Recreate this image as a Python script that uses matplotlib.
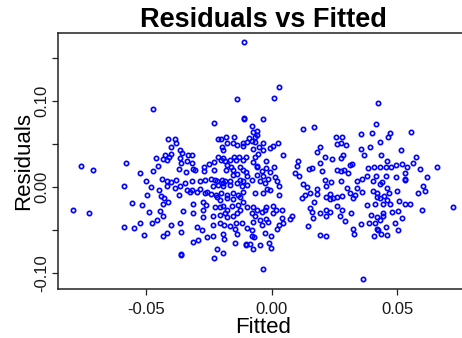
import numpy as np
import matplotlib
matplotlib.use("Agg")
import matplotlib.pyplot as plt

plt.rcParams['font.family'] = ['Liberation Sans', 'DejaVu Sans']

# (fitted, residual) pairs, grouped by region of the fitted axis
left_pts = [
    (-0.0472, 0.091), (-0.0759, 0.025), (-0.0708, 0.020), (-0.0579, 0.028),
    (-0.0411, 0.056), (-0.0383, 0.056), (-0.0380, 0.052), (-0.0398, 0.047),
    (-0.0365, 0.043), (-0.0355, 0.040), (-0.0333, 0.038), (-0.0399, 0.039),
    (-0.0425, 0.037), (-0.0461, 0.034), (-0.0431, 0.033), (-0.0415, 0.032),
    (-0.0407, 0.035), (-0.0359, 0.028), (-0.0337, 0.030), (-0.0452, 0.025),
    (-0.0473, 0.019), (-0.0525, 0.017), (-0.0370, 0.021), (-0.0341, 0.018),
    (-0.0500, 0.007), (-0.0437, 0.010), (-0.0417, 0.007), (-0.0398, 0.006),
    (-0.0379, 0.008), (-0.0346, 0.005), (-0.0586, 0.002), (-0.0481, 0.000),
    (-0.0448, -0.003), (-0.0416, 0.002), (-0.0386, -0.001), (-0.0338, -0.003),
    (-0.0325, -0.006), (-0.0496, -0.009), (-0.0553, -0.018), (-0.0516, -0.021),
    (-0.0439, -0.010), (-0.0428, -0.013), (-0.0432, -0.019), (-0.0413, -0.017),
    (-0.0367, -0.009), (-0.0791, -0.026), (-0.0726, -0.030), (-0.0488, -0.029),
    (-0.0445, -0.028), (-0.0431, -0.033), (-0.0353, -0.028), (-0.0586, -0.046),
    (-0.0547, -0.047), (-0.0525, -0.042), (-0.0476, -0.042), (-0.0456, -0.038),
    (-0.0401, -0.044), (-0.0365, -0.041), (-0.0361, -0.052), (-0.0509, -0.056),
    (-0.0433, -0.057), (-0.0415, -0.053), (-0.0362, -0.079), (-0.0360, -0.078),
    (-0.0365, 0.034), (-0.0365, 0.001), (-0.0318, 0.028), (-0.0305, 0.020),
    (-0.0318, -0.003), (-0.0312, -0.030), (-0.0318, 0.038), (-0.0312, 0.021),
    (-0.0316, 0.007), (-0.0314, -0.019), (-0.0312, -0.064),
]

core_pts = [
    (-0.0109, 0.169), (-0.0139, 0.103), (-0.0228, 0.075), (-0.0110, 0.079),
    (-0.0212, 0.056), (-0.0200, 0.056), (-0.0183, 0.058), (-0.0149, 0.058),
    (-0.0199, 0.047), (-0.0153, 0.052), (-0.0139, 0.049), (-0.0113, 0.048),
    (-0.0099, 0.053), (-0.0091, 0.057), (-0.0212, 0.035), (-0.0192, 0.034),
    (-0.0187, 0.031), (-0.0151, 0.035), (-0.0142, 0.032), (-0.0131, 0.035),
    (-0.0113, 0.032), (-0.0102, 0.035), (-0.0249, 0.027), (-0.0229, 0.029),
    (-0.0270, 0.023), (-0.0269, 0.019), (-0.0229, 0.020), (-0.0182, 0.020),
    (-0.0161, 0.023), (-0.0153, 0.020), (-0.0153, 0.014), (-0.0126, 0.024),
    (-0.0115, 0.020), (-0.0102, 0.018), (-0.0097, 0.013), (-0.0126, 0.009),
    (-0.0113, 0.007), (-0.0285, 0.007), (-0.0242, 0.010), (-0.0227, 0.009),
    (-0.0216, 0.007), (-0.0198, 0.009), (-0.0187, 0.007), (-0.0166, 0.007),
    (-0.0139, 0.015), (-0.0232, 0.001), (-0.0212, 0.003), (-0.0192, 0.005),
    (-0.0166, 0.003), (-0.0139, 0.005), (-0.0119, 0.001), (-0.0099, 0.003),
    (-0.0265, 0.008), (-0.0298, -0.006), (-0.0265, -0.007), (-0.0242, -0.008),
    (-0.0221, -0.009), (-0.0203, -0.007), (-0.0179, -0.009), (-0.0153, -0.007),
    (-0.0133, -0.009), (-0.0113, -0.005), (-0.0272, -0.017), (-0.0261, -0.021),
    (-0.0225, -0.023), (-0.0192, -0.022), (-0.0159, -0.022), (-0.0133, -0.021),
    (-0.0113, -0.017), (-0.0099, -0.023), (-0.0272, -0.035), (-0.0235, -0.033),
    (-0.0206, -0.032), (-0.0186, -0.030), (-0.0179, -0.035), (-0.0153, -0.033),
    (-0.0235, -0.044), (-0.0206, -0.042), (-0.0188, -0.044), (-0.0142, -0.042),
    (-0.0119, -0.041), (-0.0146, -0.048), (-0.0099, -0.047), (-0.0293, -0.061),
    (-0.0258, -0.058), (-0.0235, -0.057), (-0.0195, -0.054), (-0.0188, -0.060),
    (-0.0146, -0.065), (-0.0139, -0.054), (-0.0102, -0.066), (-0.0216, -0.072),
    (-0.0195, -0.076), (-0.0229, -0.082),
    (-0.0200, 0.032), (-0.0179, 0.026), (-0.0166, 0.032), (-0.0192, 0.001),
    (-0.0285, -0.002), (-0.0258, -0.005), (-0.0219, -0.011), (-0.0206, -0.015),
    (-0.0179, -0.012), (-0.0153, -0.014), (-0.0126, -0.011), (-0.0206, -0.023),
    (-0.0179, -0.026), (-0.0139, -0.030), (-0.0126, -0.026), (-0.0272, -0.026),
    (-0.0298, -0.046), (-0.0278, -0.050), (-0.0166, -0.045), (-0.0179, 0.051),
    (-0.0192, 0.043), (-0.0113, 0.051),
]

mid_pts = [
    (0.0028, 0.117), (0.0009, 0.104), (-0.0036, 0.079), (-0.0109, 0.080),
    (-0.0080, 0.071), (-0.0060, 0.066), (-0.0076, 0.064), (-0.0060, 0.061),
    (-0.0066, 0.058), (-0.0066, 0.053), (-0.0080, 0.054), (-0.0033, 0.051),
    (-0.0049, 0.047), (-0.0073, 0.045), (-0.0007, 0.046), (0.0006, 0.048),
    (0.0025, 0.052), (0.0046, 0.037), (-0.0023, 0.031), (-0.0066, 0.035),
    (-0.0053, 0.039), (-0.0073, 0.029), (-0.0057, 0.025), (-0.0060, 0.023),
    (-0.0040, 0.019), (-0.0023, 0.022), (-0.0007, 0.018), (0.0009, 0.023),
    (-0.0033, 0.013), (-0.0014, 0.010), (0.0012, 0.012), (-0.0060, 0.014),
    (-0.0080, 0.009), (-0.0047, 0.007), (-0.0027, 0.005), (0.0020, 0.007),
    (-0.0066, -0.007), (-0.0033, -0.007), (-0.0020, -0.002), (-0.0007, -0.003),
    (0.0030, 0.002), (0.0030, -0.009), (-0.0073, -0.023), (-0.0060, -0.026),
    (-0.0080, -0.030), (-0.0066, -0.033), (-0.0040, -0.029), (-0.0027, -0.026),
    (-0.0023, -0.023), (0.0006, -0.022), (0.0017, -0.026), (0.0040, -0.026),
    (0.0004, -0.030), (-0.0073, -0.040), (-0.0047, -0.038), (-0.0023, -0.037),
    (-0.0040, -0.044), (-0.0014, -0.040), (0.0040, -0.036), (0.0046, -0.042),
    (0.0030, -0.044), (0.0022, -0.049), (-0.0080, -0.050), (-0.0080, -0.057),
    (-0.0070, -0.058), (-0.0076, -0.072), (-0.0027, -0.053), (-0.0004, -0.057),
    (-0.0047, -0.067), (-0.0010, -0.065), (-0.0004, -0.071), (-0.0033, -0.095),
    (-0.0103, -0.067), (-0.0086, -0.066), (-0.0033, 0.043), (0.0073, -0.037),
    (0.0080, -0.033),
]

right_pts = [
    (0.0124, 0.068), (0.0106, 0.031), (0.0099, 0.025), (0.0094, 0.017),
    (0.0107, 0.013), (0.0123, 0.004), (0.0149, 0.021), (0.0142, 0.000),
    (0.0132, -0.009), (0.0119, -0.013), (0.0145, -0.045),
    (0.0421, 0.098), (0.0416, 0.074), (0.0168, 0.070), (0.0254, 0.059),
    (0.0279, 0.059), (0.0354, 0.062), (0.0399, 0.063), (0.0470, 0.063),
    (0.0462, 0.059), (0.0555, 0.064), (0.0274, 0.051), (0.0294, 0.049),
    (0.0193, 0.047), (0.0181, 0.041), (0.0429, 0.053), (0.0391, 0.047),
    (0.0354, 0.045), (0.0368, 0.038), (0.0513, 0.043), (0.0283, 0.038),
    (0.0277, 0.034), (0.0240, 0.033), (0.0212, 0.035), (0.0192, 0.028),
    (0.0159, 0.022), (0.0312, 0.026), (0.0320, 0.027), (0.0200, 0.019),
    (0.0258, 0.020), (0.0274, 0.019), (0.0287, 0.020), (0.0302, 0.017),
    (0.0384, 0.022), (0.0405, 0.024), (0.0429, 0.024), (0.0457, 0.030),
    (0.0454, 0.024), (0.0475, 0.024), (0.0495, 0.026), (0.0519, 0.027),
    (0.0539, 0.023), (0.0531, 0.017), (0.0575, 0.035), (0.0563, 0.028),
    (0.0588, 0.021), (0.0658, 0.024), (0.0378, 0.013), (0.0415, 0.013),
    (0.0454, 0.013), (0.0493, 0.012), (0.0529, 0.010), (0.0616, 0.012),
    (0.0211, 0.008), (0.0235, 0.006), (0.0274, 0.007), (0.0338, 0.007),
    (0.0358, 0.010), (0.0404, 0.007), (0.0437, 0.006), (0.0298, -0.001),
    (0.0338, -0.001), (0.0358, -0.005), (0.0401, -0.004), (0.0417, -0.007),
    (0.0430, 0.004), (0.0457, -0.001), (0.0465, -0.007), (0.0497, -0.004),
    (0.0531, 0.008), (0.0603, 0.001), (0.0611, -0.004), (0.0582, -0.007),
    (0.0179, -0.002), (0.0181, -0.008), (0.0152, -0.007), (0.0216, -0.011),
    (0.0232, -0.014), (0.0245, -0.012), (0.0258, -0.011), (0.0278, -0.010),
    (0.0311, -0.007), (0.0324, -0.012), (0.0331, -0.009), (0.0417, -0.011),
    (0.0430, -0.012), (0.0446, -0.010), (0.0460, -0.015), (0.0470, -0.020),
    (0.0505, -0.016), (0.0441, -0.020), (0.0412, -0.019), (0.0378, -0.021),
    (0.0531, -0.020), (0.0550, -0.020), (0.0168, -0.017), (0.0159, -0.029),
    (0.0163, -0.036), (0.0192, -0.030), (0.0216, -0.033), (0.0232, -0.029),
    (0.0278, -0.026), (0.0271, -0.034), (0.0291, -0.039), (0.0314, -0.030),
    (0.0394, -0.032), (0.0441, -0.030), (0.0444, -0.034), (0.0417, -0.035),
    (0.0430, -0.038), (0.0478, -0.029), (0.0502, -0.028), (0.0518, -0.036),
    (0.0490, -0.042), (0.0597, -0.026), (0.0722, -0.023), (0.0354, -0.043),
    (0.0388, -0.041), (0.0409, -0.041), (0.0417, -0.048), (0.0424, -0.050),
    (0.0433, -0.054), (0.0407, -0.057), (0.0454, -0.046), (0.0460, -0.055),
    (0.0502, -0.050), (0.0322, -0.049), (0.0327, -0.054), (0.0192, -0.055),
    (0.0216, -0.057), (0.0362, -0.107),
    (0.0216, 0.002), (0.0232, -0.008), (0.0258, 0.050), (0.0152, -0.024),
    (0.0216, -0.026), (0.0258, -0.022), (0.0436, 0.038),
]

x_ticks = [-0.05, 0.00, 0.05]
x_ticklabels = ["-0.05", "0.00", "0.05"]
y_ticks = [-0.10, -0.05, 0.00, 0.05, 0.10, 0.15]
y_ticklabels = ["-0.10", "", "0.00", "", "0.10", ""]

pts = np.array(left_pts + core_pts + mid_pts + right_pts)
fitted = pts[:, 0]
resid = pts[:, 1]

fig = plt.figure(figsize=(4.62, 3.38), dpi=100)
ax = fig.add_axes([0.1255, 0.145, 0.8874, 0.7574])

ax.plot(fitted, resid, linestyle='none', marker='o', markersize=3.1,
        markerfacecolor='none', markeredgecolor='#0000ff', markeredgewidth=1.2)

ax.set_xlim(-0.0849, 0.0780)
ax.set_ylim(-0.1183, 0.1794)

ax.set_xticks(x_ticks)
ax.set_xticklabels(x_ticklabels)
ax.set_yticks(y_ticks)
ax.set_yticklabels(y_ticklabels, rotation=90, va='center')

for s in ax.spines.values():
    s.set_linewidth(1.1)
    s.set_color('#222222')

ax.tick_params(axis='both', length=4.3, width=0.9, color='#222222',
               labelsize=12, labelcolor='#1a1a1a')
ax.tick_params(axis='x', pad=5)
ax.tick_params(axis='y', pad=2)

ax.set_title("Residuals vs Fitted", fontsize=19.5, fontweight='bold', pad=4.5)
ax.set_xlabel("Fitted", fontsize=16, va='baseline')
ax.xaxis.set_label_coords(0.5, -0.172)
ax.set_ylabel("Residuals", fontsize=16, va='center')
ax.yaxis.set_label_coords(-0.085, 0.5)

fig.savefig("out.png", dpi=100)
